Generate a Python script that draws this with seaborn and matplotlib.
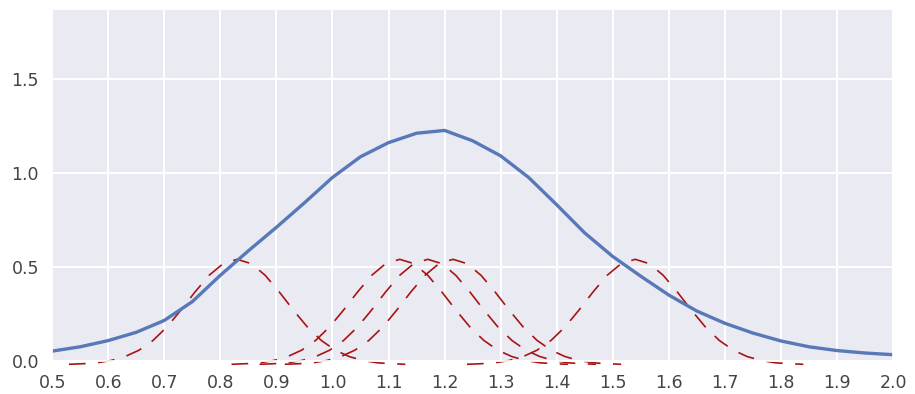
import numpy as np
import pandas as pd
import matplotlib
matplotlib.use("Agg")
import matplotlib.pyplot as plt
import seaborn as sns

# Estimated density curve, sampled every 0.05
density_x = [0.50, 0.55, 0.60, 0.65, 0.70, 0.75, 0.80, 0.85, 0.90, 0.95,
             1.00, 1.05, 1.10, 1.15, 1.20, 1.25, 1.30, 1.35, 1.40, 1.45,
             1.50, 1.55, 1.60, 1.65, 1.70, 1.75, 1.80, 1.85, 1.90, 1.95, 2.00]
density_y = [0.052, 0.075, 0.108, 0.152, 0.215, 0.315, 0.455, 0.585, 0.710, 0.840,
             0.975, 1.085, 1.160, 1.210, 1.225, 1.170, 1.090, 0.975, 0.830, 0.680,
             0.555, 0.450, 0.350, 0.265, 0.200, 0.148, 0.106, 0.075, 0.055, 0.042, 0.033]

# Individual kernels: one bump per observation, all sharing the same profile
kernel_centers = [0.83, 1.12, 1.17, 1.215, 1.54]
kernel_offsets = [-0.300, -0.275, -0.250, -0.225, -0.200, -0.175, -0.150, -0.125,
                  -0.100, -0.075, -0.050, -0.025, 0.000, 0.025, 0.050, 0.075,
                  0.100, 0.125, 0.150, 0.175, 0.200, 0.225, 0.250, 0.275, 0.300]
kernel_heights = [-0.018, -0.015, -0.010, 0.002, 0.023, 0.057, 0.109, 0.181,
                  0.271, 0.367, 0.455, 0.517, 0.540, 0.517, 0.455, 0.367,
                  0.271, 0.181, 0.109, 0.057, 0.023, 0.002, -0.010, -0.015, -0.018]

x_ticks = [0.5, 0.6, 0.7, 0.8, 0.9, 1.0, 1.1, 1.2, 1.3, 1.4, 1.5, 1.6, 1.7, 1.8, 1.9, 2.0]
y_ticks = [0.0, 0.5, 1.0, 1.5]

sns.set_theme(style="darkgrid")
plt.rcParams["font.family"] = ["DejaVu Sans"]

fig = plt.figure(figsize=(9.15, 3.94), dpi=100)
ax = fig.add_axes([0.057, 0.084, 0.919, 0.893])

for c in kernel_centers:
    kdf = pd.DataFrame({"x": np.asarray(kernel_offsets) + c, "y": kernel_heights})
    sns.lineplot(data=kdf, x="x", y="y", ax=ax, color="#a81414", lw=1.2,
                 linestyle=(0, (10, 7.5)), clip_on=False, sort=False,
                 estimator=None)

ddf = pd.DataFrame({"x": density_x, "y": density_y})
sns.lineplot(data=ddf, x="x", y="y", ax=ax, color="#5878b8", lw=2.4,
             estimator=None, sort=False)

ax.set_xlim(0.5, 2.0)
ax.set_ylim(0.0, 1.87)
ax.set_xticks(x_ticks)
ax.set_xticklabels([f"{t:.1f}" for t in x_ticks])
ax.set_yticks(y_ticks)
ax.set_yticklabels([f"{t:.1f}" for t in y_ticks])
ax.tick_params(labelsize=12.5, colors="#444444")
ax.grid(color="white", lw=1.4)
ax.set_xlabel("")
ax.set_ylabel("")

fig.savefig("out.png", dpi=100)
